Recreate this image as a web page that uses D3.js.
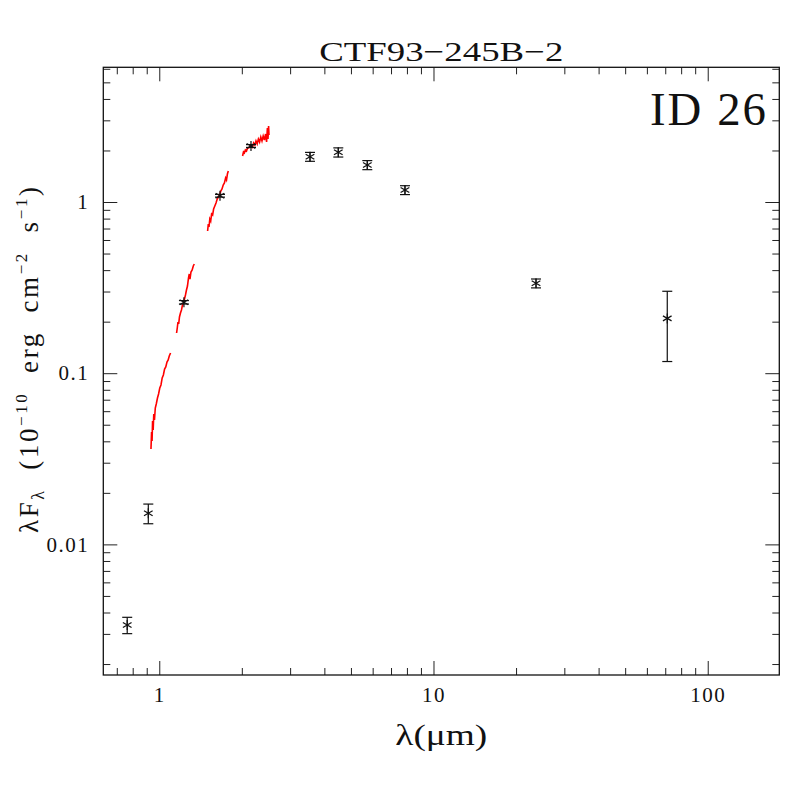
<!DOCTYPE html>
<html>
<head>
<meta charset="utf-8">
<script src="https://cdn.jsdelivr.net/npm/d3@7"></script>
<style>
  body { margin: 0; background: #fff; }
  text { font-family: "Liberation Serif", serif; fill: #111; }
</style>
</head>
<body>
<script>
// photometry (micron, 1e-10 erg cm^-2 s^-1)
const photLam  = [0.764, 0.912, 1.23, 1.665, 2.16, 3.545, 4.496, 5.736, 7.87, 23.65, 71.2];
const photFlux = [0.00338, 0.0152, 0.2596, 1.088, 2.124, 1.839, 1.951, 1.645, 1.175, 0.335, 0.209];
const photErr  = [0.00037, 0.0020, 0.006, 0.02, 0.04, 0.11, 0.12, 0.10, 0.07, 0.02, 0.092];

// spectrum pieces
const specLamZ  = [0.9327, 0.9374, 0.9413, 0.9453, 0.9500, 0.9549, 0.9605, 0.9670, 0.9751, 0.9850, 0.9941, 1.0042, 1.0144, 1.0247, 1.0350, 1.0455, 1.0561, 1.0668, 1.0776, 1.0876, 1.0995];
const specFluxZ = [0.03608, 0.04534, 0.04018, 0.05257, 0.04659, 0.05776, 0.05328, 0.06262, 0.06609, 0.07164, 0.07558, 0.08195, 0.08533, 0.09376, 0.09761, 0.1058, 0.1087, 0.1162, 0.1194, 0.1260, 0.1312];

const specLamJ  = [1.1563, 1.1631, 1.1700, 1.1769, 1.1848, 1.1948, 1.2049, 1.2150, 1.2253, 1.2356, 1.2460, 1.2565, 1.2671, 1.2778, 1.2864, 1.2940, 1.3049, 1.3182, 1.3305, 1.3417];
const specFluxJ = [0.1717, 0.1837, 0.1991, 0.1938, 0.2130, 0.2247, 0.2339, 0.2502, 0.2570, 0.2713, 0.2862, 0.3062, 0.3231, 0.3597, 0.3797, 0.3549, 0.3901, 0.4007, 0.4228, 0.4344];

const specLamH  = [1.5006, 1.5094, 1.5183, 1.5286, 1.5401, 1.5518, 1.5649, 1.5781, 1.5941, 1.6102, 1.6265, 1.6430, 1.6596, 1.6764, 1.6934, 1.7105, 1.7279, 1.7454, 1.7586, 1.7719, 1.7853];
const specFluxH = [0.6771, 0.7437, 0.7145, 0.7956, 0.7745, 0.8509, 0.8396, 0.9101, 0.9476, 0.9866, 1.0412, 1.0696, 1.0988, 1.1594, 1.1912, 1.2570, 1.2912, 1.3808, 1.3441, 1.4573, 1.5172];

const specLamK  = [2.0128, 2.0281, 2.0435, 2.0606, 2.0797, 2.0990, 2.1203, 2.1418, 2.1635, 2.1854, 2.2076, 2.2300, 2.2525, 2.2753, 2.2984, 2.3216, 2.3452, 2.3689, 2.3929, 2.4172, 2.4417, 2.4623, 2.4789, 2.4914, 2.5040, 2.5124];
const specFluxK = [1.8565, 1.9590, 1.9328, 2.0125, 1.9857, 2.0676, 2.0676, 2.1240, 2.1528, 2.0959, 2.2114, 2.1528, 2.2718, 2.1821, 2.3335, 2.2413, 2.3972, 2.2718, 2.4296, 2.3020, 2.4956, 2.2413, 2.7055, 2.3335, 2.7792, 2.4622];

// axes
const xMajor = [1, 10, 100];
const xTickLabels = ['1', '10', '100'];
const xMinor = [0.7, 0.8, 0.9, 2, 3, 4, 5, 6, 7, 8, 9, 20, 30, 40, 50, 60, 70, 80, 90];
const yMajor = [0.01, 0.1, 1];
const yTickLabels = ['0.01', '0.1', '1'];
const yMinor = [0.002, 0.003, 0.004, 0.005, 0.006, 0.007, 0.008, 0.009,
                0.02, 0.03, 0.04, 0.05, 0.06, 0.07, 0.08, 0.09,
                0.2, 0.3, 0.4, 0.5, 0.6, 0.7, 0.8, 0.9, 2, 3, 4, 5, 6];

const W = 797, H = 797;
const L = 103.3, R = 779.3, T = 67.3, B = 675;

const x = d3.scaleLog().domain([0.625, 182.4]).range([L, R]);
const y = d3.scaleLog().domain([0.001726, 6.122]).range([B, T]);

const svg = d3.select('body').append('svg')
  .attr('width', W).attr('height', H);

// ticks on all four sides, pointing in
function ticks(axisFn, vals, len, tr, labels, pad) {
  const a = axisFn.tickValues(vals).tickSize(-len)
    .tickFormat(labels ? (d, i) => labels[i] : '');
  if (pad) a.tickPadding(pad);
  const g = svg.append('g').attr('transform', tr).call(a);
  g.select('.domain').remove();
  g.selectAll('line').attr('stroke', '#222').attr('stroke-width', 1);
  g.selectAll('text').attr('font-size', 21).attr('fill', '#111')
    .attr('font-family', 'Liberation Serif').style('letter-spacing', '1.5px');
  return g;
}
ticks(d3.axisBottom(x), xMajor, 14, `translate(0,${B})`, xTickLabels, 12);
ticks(d3.axisBottom(x), xMinor, 7, `translate(0,${B})`);
ticks(d3.axisTop(x), xMajor, 14, `translate(0,${T})`);
ticks(d3.axisTop(x), xMinor, 7, `translate(0,${T})`);
ticks(d3.axisLeft(y), yMajor, 14, `translate(${L},0)`, yTickLabels, 14);
ticks(d3.axisLeft(y), yMinor, 7, `translate(${L},0)`);
ticks(d3.axisRight(y), yMajor, 14, `translate(${R},0)`);
ticks(d3.axisRight(y), yMinor, 7, `translate(${R},0)`);

svg.append('rect')
  .attr('x', L).attr('y', T).attr('width', R - L).attr('height', B - T)
  .attr('fill', 'none').attr('stroke', '#111').attr('stroke-width', 1.3);

// spectrum
const line = d3.line().x(d => x(d[0])).y(d => y(d[1]));
[[specLamZ, specFluxZ], [specLamJ, specFluxJ], [specLamH, specFluxH], [specLamK, specFluxK]]
  .forEach(([lam, fl]) => {
    svg.append('path')
      .datum(lam.map((l, i) => [l, fl[i]]))
      .attr('d', line)
      .attr('fill', 'none')
      .attr('stroke', '#ff0000')
      .attr('stroke-width', 1.6);
  });

// photometry with error bars
const phot = photLam.map((l, i) => ({ l: l, f: photFlux[i], e: photErr[i] }));
const pg = svg.append('g').attr('stroke', '#111').attr('stroke-width', 1.2);
phot.forEach(d => {
  const cx = x(d.l), cy = y(d.f);
  const y0 = y(d.f + d.e), y1 = y(d.f - d.e);
  pg.append('line').attr('x1', cx).attr('x2', cx).attr('y1', y0).attr('y2', y1);
  pg.append('line').attr('x1', cx - 5).attr('x2', cx + 5).attr('y1', y0).attr('y2', y0);
  pg.append('line').attr('x1', cx - 5).attr('x2', cx + 5).attr('y1', y1).attr('y2', y1);
  // asterisk marker
  [90, 30, 150].forEach(a => {
    const r = 5, rad = a * Math.PI / 180;
    pg.append('line')
      .attr('x1', cx - r * Math.cos(rad)).attr('y1', cy - r * Math.sin(rad))
      .attr('x2', cx + r * Math.cos(rad)).attr('y2', cy + r * Math.sin(rad));
  });
});

// texts
svg.append('text')
  .attr('x', (L + R) / 2).attr('y', 61)
  .attr('text-anchor', 'middle').attr('font-size', 28)
  .attr('textLength', 244).attr('lengthAdjust', 'spacingAndGlyphs')
  .text('CTF93\u2212245B\u22122');

svg.append('text')
  .attr('x', 650).attr('y', 125)
  .attr('font-size', 46)
  .attr('textLength', 118).attr('lengthAdjust', 'spacingAndGlyphs')
  .style('letter-spacing', '2px')
  .text('ID 26');

svg.append('text')
  .attr('x', (L + R) / 2).attr('y', 745)
  .attr('text-anchor', 'middle').attr('font-size', 29)
  .attr('textLength', 92).attr('lengthAdjust', 'spacingAndGlyphs')
  .text('\u03bb(\u03bcm)');

const yl = svg.append('text')
  .attr('transform', 'translate(38,360) rotate(-90)')
  .attr('text-anchor', 'middle').attr('font-size', 27)
  .style('white-space', 'pre')
  .attr('textLength', 346).attr('lengthAdjust', 'spacing');
yl.append('tspan').text('\u03bbF');
yl.append('tspan').attr('font-size', 18).attr('dy', 6).text('\u03bb');
yl.append('tspan').attr('dy', -6).text('  (10');
yl.append('tspan').attr('font-size', 17).attr('dy', -11).text('\u221210');
yl.append('tspan').attr('dy', 11).text('  erg  cm');
yl.append('tspan').attr('font-size', 17).attr('dy', -11).text('\u22122');
yl.append('tspan').attr('dy', 11).text('  s');
yl.append('tspan').attr('font-size', 17).attr('dy', -11).text('\u22121');
yl.append('tspan').attr('dy', 11).text(')');
</script>
</body>
</html>
